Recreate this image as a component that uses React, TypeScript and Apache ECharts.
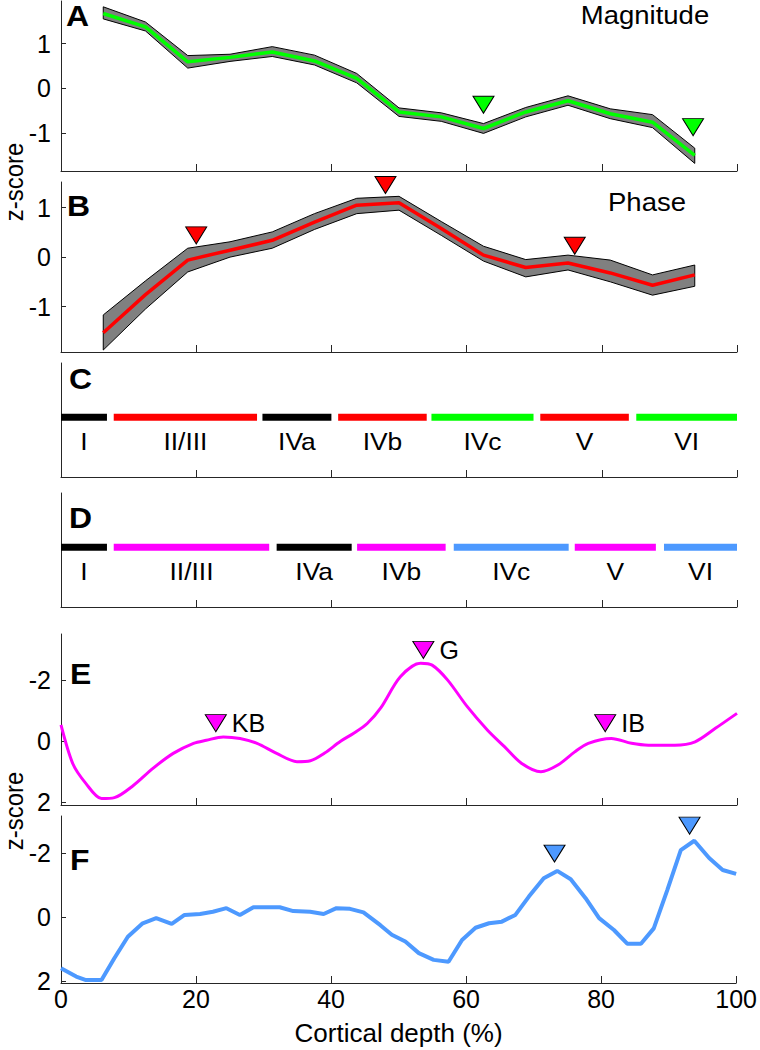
import React, { useEffect, useRef } from "react";
import * as echarts from "echarts";

// ---------- data ----------
const depthAB = [6.25, 12.5, 18.75, 25, 31.25, 37.5, 43.75, 50, 56.25, 62.5, 68.75, 75, 81.25, 87.5, 93.75];

const magMean = [1.67, 1.37, 0.59, 0.69, 0.81, 0.61, 0.22, -0.53, -0.64, -0.9, -0.53, -0.28, -0.57, -0.76, -1.5];
const magUpper = [1.82, 1.48, 0.73, 0.76, 0.93, 0.74, 0.33, -0.44, -0.55, -0.79, -0.43, -0.17, -0.46, -0.59, -1.34];
const magLower = [1.55, 1.28, 0.45, 0.6, 0.71, 0.52, 0.12, -0.63, -0.74, -1.01, -0.64, -0.38, -0.68, -0.88, -1.68];

const phaseMean = [-1.53, -0.76, -0.06, 0.14, 0.34, 0.71, 1.05, 1.1, 0.58, 0.04, -0.21, -0.12, -0.32, -0.57, -0.36];
const phaseUpper = [-1.17, -0.48, 0.18, 0.31, 0.51, 0.88, 1.19, 1.23, 0.72, 0.22, -0.05, 0.04, -0.06, -0.36, -0.16];
const phaseLower = [-1.88, -1.05, -0.3, 0.0, 0.18, 0.56, 0.88, 0.95, 0.44, -0.08, -0.4, -0.26, -0.5, -0.77, -0.59];

const magMarkX = [62.5, 93.5];
const magMarkY = [-0.37, -0.87];
const phaseMarkX = [20, 48, 76];
const phaseMarkY = [0.44, 1.46, 0.23];

const layerLabels = ["I", "II/III", "IVa", "IVb", "IVc", "V", "VI"];
const cStart = [0, 7.8, 29.8, 41.0, 54.8, 70.9, 85.1];
const cEnd = [6.8, 29.0, 40.0, 54.1, 69.9, 84.0, 100];
const cColors = ["#000000", "#FF0000", "#000000", "#FF0000", "#00FF00", "#FF0000", "#00FF00"];
const dStart = [0, 7.8, 31.9, 43.8, 58.1, 76.0, 89.2];
const dEnd = [6.8, 30.8, 43.0, 56.9, 75.1, 88.0, 100];
const dColors = ["#000000", "#FF00FF", "#000000", "#FF00FF", "#4D99FF", "#FF00FF", "#4D99FF"];

const eDepth = [0, 1.75, 3.7, 6.0, 7.9, 10.7, 13.6, 16.6, 19.6, 21.5, 24.0, 26.5, 29.0, 31.9, 34.9, 36.9, 39.0, 41.3, 43.3, 45.3, 47.3, 50.2, 53.2, 54.9, 57.2, 60.1, 63.1, 65.6, 68.1, 71.0, 73.5, 76.0, 78.0, 81.4, 84.4, 86.9, 90.8, 93.8, 96.8, 100];
const eZ = [-0.52, 0.75, 1.4, 1.89, 1.86, 1.46, 0.9, 0.41, 0.08, -0.02, -0.13, -0.08, 0.08, 0.41, 0.68, 0.65, 0.4, 0.02, -0.25, -0.57, -1.08, -2.1, -2.54, -2.48, -1.99, -1.12, -0.35, 0.19, 0.73, 1.01, 0.79, 0.36, 0.08, -0.08, 0.08, 0.14, 0.14, 0.03, -0.41, -0.9];
const eMarkX = [22.9, 53.6, 80.5];
const eMarkY = [-0.58, -2.98, -0.58];
const eMarkNames = ["KB", "G", "IB"];

const fDepth = [0, 2.25, 3.7, 6.0, 7.9, 9.9, 12.1, 14.1, 16.4, 18.3, 20.6, 22.5, 24.5, 26.5, 28.5, 30.5, 32.4, 34.4, 36.9, 38.9, 40.8, 42.8, 44.8, 47.3, 49.0, 51.0, 53.0, 55.2, 57.4, 59.4, 61.4, 63.4, 65.3, 67.3, 69.3, 71.5, 73.5, 75.5, 77.7, 79.7, 81.9, 83.9, 85.9, 87.8, 89.8, 91.8, 93.8, 96.0, 98.0, 100];
const fZ = [1.59, 1.85, 1.96, 1.96, 1.28, 0.61, 0.19, 0.03, 0.21, -0.07, -0.1, -0.17, -0.28, -0.07, -0.31, -0.31, -0.31, -0.19, -0.17, -0.1, -0.28, -0.26, -0.15, 0.25, 0.55, 0.76, 1.12, 1.33, 1.39, 0.71, 0.33, 0.19, 0.14, -0.07, -0.64, -1.21, -1.44, -1.18, -0.59, 0.03, 0.4, 0.83, 0.83, 0.35, -0.84, -2.09, -2.38, -1.84, -1.47, -1.35];
const fMarkX = [73.1, 93.1];
const fMarkY = [-1.98, -2.85];

const yTicksAB = [-1, 0, 1];
const yTicksEF = [-2, 0, 2];

// ---------- styling ----------
const FONT = "Liberation Sans, Arial, Helvetica, sans-serif";
const AXIS = "#262626";
const GREEN = "#00FF00";
const RED = "#FF0000";
const MAGENTA = "#FF00FF";
const BLUE = "#4D99FF";
const BAR_Y = 0.524;
const LABEL_Y = 0.31;
const SX = 1.1;

const grids = [
  { top: 1, height: 170 },
  { top: 182, height: 170 },
  { top: 363, height: 114 },
  { top: 493, height: 114 },
  { top: 634, height: 171 },
  { top: 816, height: 167 },
];

const yRanges = [
  { min: -1.85, max: 1.95, inverse: false, ticks: yTicksAB },
  { min: -1.92, max: 1.52, inverse: false, ticks: yTicksAB },
  { min: 0, max: 1, inverse: false, ticks: null },
  { min: 0, max: 1, inverse: false, ticks: null },
  { min: -3.5, max: 2.1, inverse: true, ticks: yTicksEF },
  { min: -3.15, max: 2.05, inverse: true, ticks: yTicksEF },
];

function bandSeries(idx: number, upper: number[], lower: number[]) {
  return {
    type: "custom",
    xAxisIndex: idx,
    yAxisIndex: idx,
    data: [[depthAB[0], upper[0]]],
    silent: true,
    z: 2,
    renderItem: (_p: any, api: any) => {
      const top = depthAB.map((x, i) => api.coord([x, upper[i]]));
      const bot = depthAB.map((x, i) => api.coord([x, lower[i]])).reverse();
      return {
        type: "polygon",
        shape: { points: top.concat(bot) },
        style: { fill: "#808080", stroke: "#000000", lineWidth: 1 },
      };
    },
  };
}

function lineSeries(idx: number, xs: number[], ys: number[], color: string, width: number, smooth: number | boolean) {
  return {
    type: "line",
    xAxisIndex: idx,
    yAxisIndex: idx,
    data: xs.map((x, i) => [x, ys[i]]),
    symbol: "none",
    smooth,
    lineStyle: { color, width },
    z: 3,
    silent: true,
  };
}

function markSeries(idx: number, xs: number[], ys: number[], color: string, names?: string[]) {
  return {
    type: "scatter",
    xAxisIndex: idx,
    yAxisIndex: idx,
    clip: false,
    symbol: "triangle",
    symbolRotate: 180,
    symbolSize: [21, 17],
    itemStyle: { color, borderColor: "#000000", borderWidth: 1, opacity: 1 },
    data: xs.map((x, i) => ({ value: [x, ys[i]], name: names ? names[i] : "" })),
    label: names
      ? { show: true, position: "right", distance: 5, formatter: "{b}", fontSize: 25, color: "#000", fontFamily: FONT }
      : { show: false },
    z: 5,
    silent: true,
  };
}

function layerSeries(idx: number, starts: number[], ends: number[], colors: string[]) {
  return {
    type: "custom",
    xAxisIndex: idx,
    yAxisIndex: idx,
    silent: true,
    data: starts.map((s, i) => [s, ends[i], i]),
    encode: { x: [0, 1] },
    renderItem: (_p: any, api: any) => {
      const s = api.value(0);
      const e = api.value(1);
      const i = api.value(2);
      const p1 = api.coord([s, BAR_Y]);
      const p2 = api.coord([e, BAR_Y]);
      const pl = api.coord([(s + e) / 2, LABEL_Y]);
      return {
        type: "group",
        children: [
          {
            type: "rect",
            shape: { x: p1[0], y: p1[1] - 3.5, width: p2[0] - p1[0], height: 7 },
            style: { fill: colors[i] },
          },
          {
            type: "text",
            x: pl[0],
            y: pl[1],
            scaleX: SX,
            style: {
              text: layerLabels[i],
              fontSize: 24,
              fontFamily: FONT,
              fill: "#000",
              align: "center",
              verticalAlign: "middle",
              textAlign: "center",
              textVerticalAlign: "middle",
            },
          },
        ],
      };
    },
  };
}

function letter(t: string, x: number, y: number) {
  return {
    type: "text",
    x,
    y,
    scaleX: SX,
    style: {
      text: t,
      fontSize: 29,
      fontWeight: "bold",
      fontFamily: FONT,
      fill: "#000",
      align: "left",
      verticalAlign: "middle",
      textAlign: "left",
      textVerticalAlign: "middle",
    },
    z: 10,
  };
}

function plainText(t: string, x: number, y: number, size: number, rotation = 0) {
  return {
    type: "text",
    x,
    y,
    rotation,
    scaleX: rotation ? 1 : SX,
    scaleY: rotation ? SX : 1,
    style: {
      text: t,
      fontSize: size,
      fontFamily: FONT,
      fill: "#000",
      align: "center",
      verticalAlign: "middle",
      textAlign: "center",
      textVerticalAlign: "middle",
    },
    z: 10,
  };
}

export default function App() {
  const ref = useRef<HTMLDivElement>(null);
  useEffect(() => {
    if (!ref.current) return;
    const chart = echarts.init(ref.current, undefined, { renderer: "svg" });
    const option: any = {
      animation: false,
      backgroundColor: "#ffffff",
      textStyle: { fontFamily: FONT },
      grid: grids.map((g) => ({ left: 61, right: 23, top: g.top, height: g.height, containLabel: false })),
      xAxis: grids.map((_g, i) => ({
        type: "value",
        gridIndex: i,
        min: 0,
        max: 100,
        interval: 20,
        axisLine: { show: true, onZero: false, lineStyle: { color: AXIS, width: 1 } },
        axisTick: { show: true, inside: true, length: 7, lineStyle: { color: AXIS, width: 1 } },
        axisLabel: { show: i === 5, fontSize: 25, color: "#000", margin: 3, fontFamily: FONT },
        splitLine: { show: false },
        name: i === 5 ? "Cortical depth (%)" : "",
        nameLocation: "middle",
        nameGap: 37,
        nameTextStyle: { fontSize: 26, color: "#000", fontFamily: FONT },
      })),
      yAxis: yRanges.map((r, i) => ({
        type: "value",
        gridIndex: i,
        min: r.min,
        max: r.max,
        inverse: r.inverse,
        axisLine: { show: true, onZero: false, lineStyle: { color: AXIS, width: 1 } },
        axisTick: r.ticks
          ? { show: true, inside: true, length: 5, customValues: r.ticks, lineStyle: { color: AXIS, width: 1 } }
          : { show: false },
        axisLabel: r.ticks
          ? { show: true, customValues: r.ticks, fontSize: 25, color: "#000", margin: 10, fontFamily: FONT }
          : { show: false },
        splitLine: { show: false },
      })),
      graphic: [
        letter("A", 66, 16),
        letter("B", 67, 206),
        letter("C", 69, 379),
        letter("D", 69, 518),
        letter("E", 70, 674),
        letter("F", 70, 860),
        plainText("Magnitude", 645, 15, 25),
        plainText("Phase", 647, 202, 25),
        plainText("z-score", 14, 182, 24, Math.PI / 2),
        plainText("z-score", 14, 811, 24, Math.PI / 2),
      ],
      series: [
        bandSeries(0, magUpper, magLower),
        lineSeries(0, depthAB, magMean, GREEN, 3.5, false),
        markSeries(0, magMarkX, magMarkY, GREEN),
        bandSeries(1, phaseUpper, phaseLower),
        lineSeries(1, depthAB, phaseMean, RED, 3.5, false),
        markSeries(1, phaseMarkX, phaseMarkY, RED),
        layerSeries(2, cStart, cEnd, cColors),
        layerSeries(3, dStart, dEnd, dColors),
        lineSeries(4, eDepth, eZ, MAGENTA, 3, 0.3),
        markSeries(4, eMarkX, eMarkY, MAGENTA, eMarkNames),
        lineSeries(5, fDepth, fZ, BLUE, 4, false),
        markSeries(5, fMarkX, fMarkY, BLUE),
      ],
    };
    chart.setOption(option);
    return () => chart.dispose();
  }, []);
  return (
    <div
      ref={ref}
      style={{ position: "absolute", left: 0, top: 0, width: 760, height: 1050, background: "#fff" }}
    />
  );
}
